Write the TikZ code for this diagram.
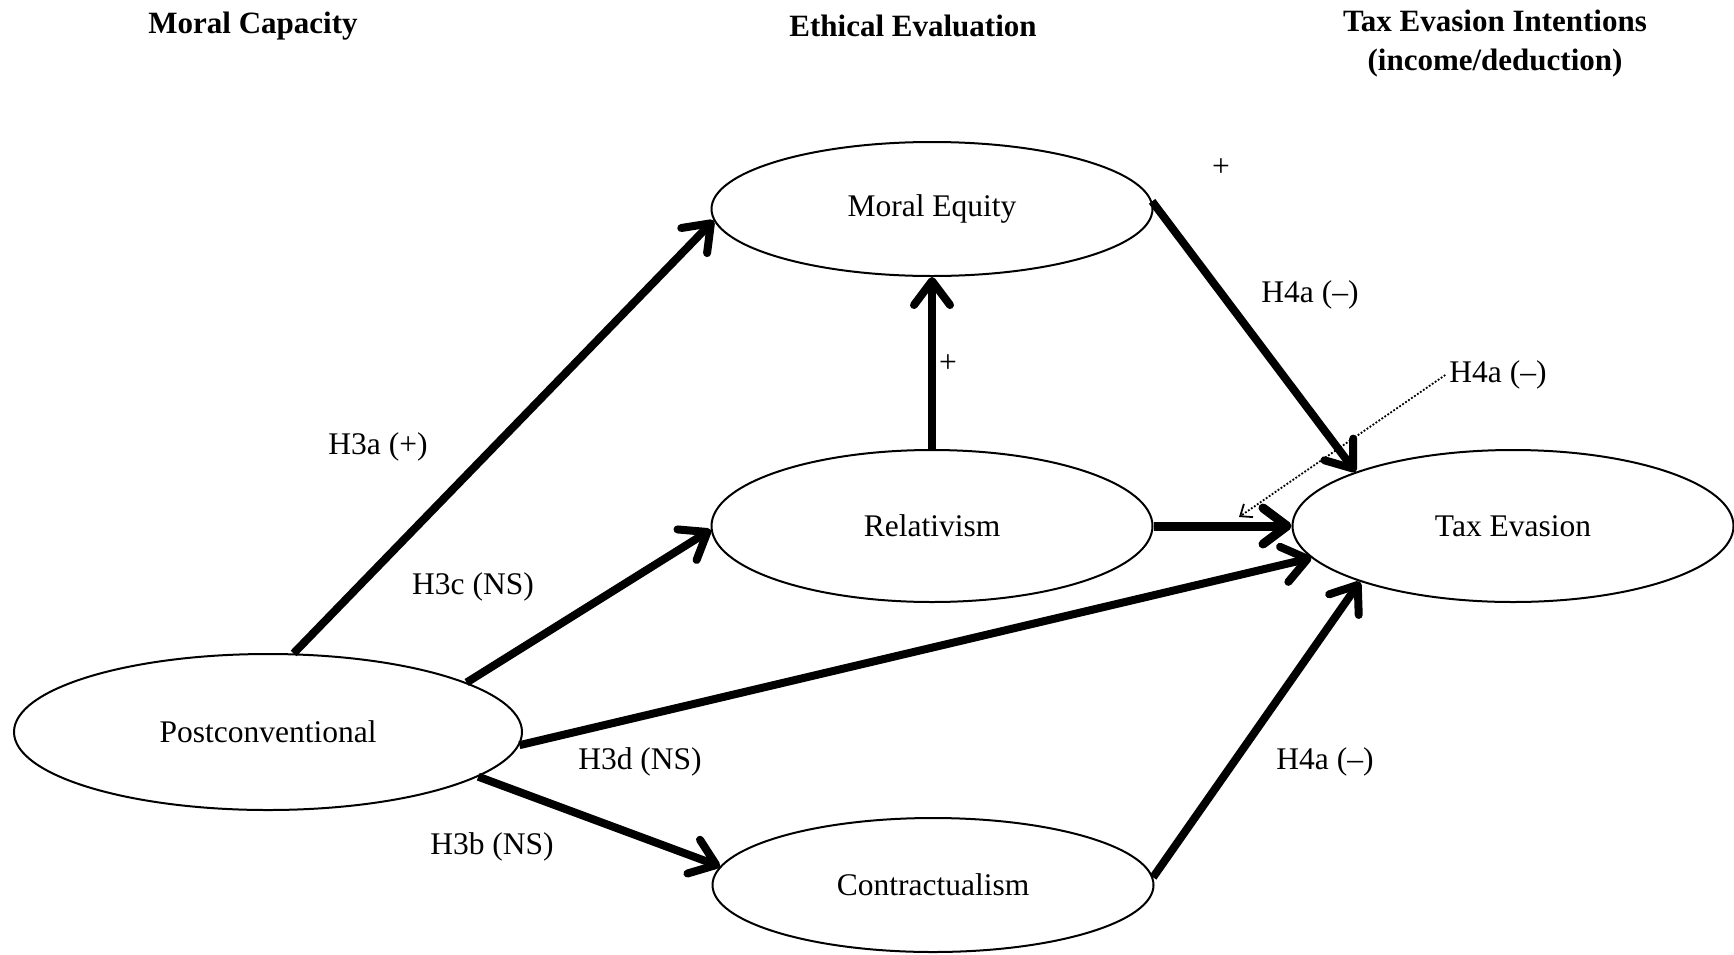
\documentclass[tikz,border=0pt]{standalone}
\usepackage{fontspec}
\setmainfont{Liberation Serif}
\usetikzlibrary{shapes.geometric,arrows.meta}
\begin{document}
\begin{tikzpicture}[x=1pt,y=-1pt,
  every node/.style={font=\fontsize{31.5}{36}\selectfont},
  state/.style={ellipse,draw,line width=2pt,inner sep=0pt},
  title/.style={font=\fontsize{31}{39}\selectfont\bfseries,align=center},
  lbl/.style={inner sep=0pt},
  arr/.style={line width=8pt,-{Straight Barb[length=24pt,width=36pt,round]}},
  dotarr/.style={line width=1.8pt,dash pattern=on 1.8pt off 1.8pt,-{Straight Barb[length=10pt,width=16pt]}}]
\fill[white] (0,0) rectangle (1734,954);
\useasboundingbox (0,0) rectangle (1734,954);

% titles
\node[title] (t1) at (253,26) {Moral Capacity};
\node[title] (t2) at (913,26) {Ethical Evaluation};
\node[title] (t3) at (1495,44) {Tax Evasion Intentions\\(income/deduction)};

% states
\node[state,minimum width=508pt,minimum height=156pt] (pc) at (268,732) {Postconventional};
\node[state,minimum width=441pt,minimum height=134pt] (me) at (932,209) {Moral Equity};
\node[state,minimum width=441pt,minimum height=152pt] (rel) at (932,526) {Relativism};
\node[state,minimum width=441pt,minimum height=152pt] (te) at (1513,526) {Tax Evasion};
\node[state,minimum width=441pt,minimum height=134pt] (co) at (933,885) {Contractualism};

% connectors
\draw[arr] (pc.72) -- (me.183);
\draw[arr] (pc.14) -- (rel.181);
\draw[arr] (pc.-3) -- (te.189);
\draw[arr] (pc.-12) -- (co.175);
\draw[arr] (rel.north) -- (me.south);
\draw[arr,line width=9pt] (rel.east) -- (te.west);
\draw[arr] (me.2) -- (te.161);
\draw[arr] (co.2) -- (te.200);

% labels
\node[lbl] (p1) at (1221,168) {+};
\node[lbl] (p2) at (948,364) {+};
\node[lbl] (l1) at (1310,295) {H4a (--)};
\node[lbl] (l2) at (1498,375) {H4a (--)};
\node[lbl] (l3) at (378,447) {H3a (+)};
\node[lbl] (l4) at (473,587) {H3c (NS)};
\node[lbl] (l5) at (640,762) {H3d (NS)};
\node[lbl] (l6) at (492,847) {H3b (NS)};
\node[lbl] (l7) at (1325,762) {H4a (--)};

\coordinate (dotend) at (1239,517);
\draw[dotarr] ([xshift=-4pt]l2.west) -- (dotend);
\end{tikzpicture}
\end{document}
